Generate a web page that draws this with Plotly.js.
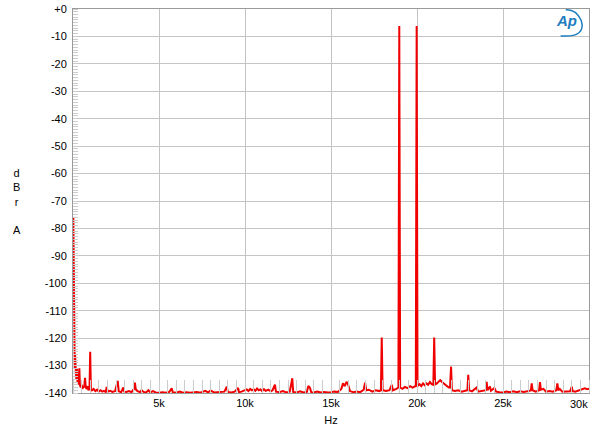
<!DOCTYPE html>
<html>
<head>
<meta charset="utf-8">
<script src="https://cdn.plot.ly/plotly-3.0.1.min.js"></script>
<style>
  html, body { margin: 0; padding: 0; background: #fff; }
  #chart { width: 600px; height: 434px; }
</style>
</head>
<body>
<div id="chart"></div>
<script>
// Frequency (Hz) and level (dBrA)
const freqHz = [
  20, 40, 60, 80, 100, 120, 140, 170, 200, 230, 260, 300, 340, 370, 400, 450, 500, 550, 600, 650,
  700, 740, 800, 850, 900, 960, 1000, 1040, 1100, 1200, 1300, 1400, 1500, 1600, 1700, 1800, 1900, 1960, 2020, 2150,
  2300, 2450, 2600, 2660, 2800, 2930, 2980, 3100, 3250, 3400, 3550, 3600, 3650, 3750, 3900, 3990, 4100, 4250, 4380, 4500,
  4650, 4800, 5000, 5200, 5400, 5600, 5740, 5800, 6000, 6200, 6400, 6600, 6800, 7000, 7200, 7400, 7700, 7850, 8000, 8200,
  8500, 8800, 8940, 9000, 9200, 9400, 9600, 9650, 9800, 10000, 10100, 10200, 10300, 10400, 10500, 10600, 10700, 10800, 10900, 11000,
  11100, 11200, 11350, 11500, 11600, 11740, 11800, 12000, 12200, 12400, 12600, 12750, 12800, 13000, 13200, 13400, 13600, 13680, 13780, 13850,
  14000, 14200, 14400, 14600, 14800, 15000, 15200, 15400, 15600, 15700, 15800, 15900, 16000, 16100, 16300, 16500, 16700, 16900, 16980, 17050,
  17200, 17400, 17600, 17800, 17900, 17950, 18000, 18200, 18400, 18530, 18600, 18800, 18920, 18970, 19020, 19150, 19300, 19450, 19600, 19750,
  19900, 19930, 19980, 20030, 20150, 20250, 20350, 20450, 20550, 20650, 20750, 20850, 20950, 21000, 21050, 21150, 21250, 21350, 21450, 21550,
  21700, 21850, 21920, 21980, 22030, 22200, 22400, 22600, 22800, 22930, 22980, 23030, 23200, 23470, 23550, 23800, 24000, 24050, 24100, 24240,
  24300, 24500, 24600, 24800, 25000, 25200, 25400, 25600, 25800, 26000, 26200, 26500, 26620, 26670, 26720, 26900, 27100, 27150, 27200, 27350,
  27500, 27700, 27900, 28100, 28160, 28220, 28300, 28450, 28700, 28900, 29000, 29050, 29200, 29400, 29600, 29750, 29900, 30000
];
const levelDb = [
  -76, -100, -118, -127, -131, -126, -132, -133, -135, -131, -136, -134, -137, -131, -137, -138, -137, -138.5, -137.5, -138,
  -134.5, -138, -138.5, -137.5, -139, -138.5, -125, -138.5, -139, -138.5, -139.3, -138.8, -139.5, -139, -139.5, -139.2, -139.6, -137.8, -139.5, -139.2,
  -139.6, -139.3, -135.6, -139.4, -139.7, -138, -139.5, -139.6, -139.3, -139.7, -138.5, -136.2, -138.7, -139.3, -139.7, -139, -139.6, -139.8, -139, -139.8,
  -139.3, -139.8, -139.9, -139.7, -139.9, -139.6, -138.3, -139.7, -139.9, -139.5, -139.9, -139.7, -139.9, -139.8, -139.6, -139.9, -139.2, -139.8, -139.1, -139.8,
  -139.7, -139.5, -137.7, -139.6, -139.8, -139.5, -138.2, -139.7, -139.5, -139, -138.7, -139.3, -138.5, -139, -138.6, -139.2, -138.4, -139, -138.7, -139.3,
  -138.6, -139.2, -138.8, -139.4, -139, -137, -139.5, -139.7, -139.3, -139.8, -139.5, -134.6, -139.6, -139.8, -139.4, -139.8, -139.6, -137.4, -138.2, -139.7,
  -139.8, -139.5, -139.8, -139.6, -139.8, -139.7, -139.5, -139.6, -138.5, -136.5, -137.5, -135.9, -137, -139.3, -139.7, -139.5, -139.7, -138.8, -136.2, -139,
  -138.8, -139.5, -139, -139.3, -139, -119.8, -139, -139.3, -139, -137, -139, -138.5, -138, -6.2, -138, -138.5, -137.8, -138.2, -137.5, -138,
  -137.5, -137.8, -6.2, -137.5, -136.8, -137.5, -136.5, -137.2, -136.5, -137, -136, -136.8, -137, -119.8, -137, -136.5, -135.7, -135.3, -136, -136.5,
  -137.5, -138, -138, -130.4, -139, -139.3, -139, -139.5, -139.2, -139, -133.4, -139, -139.4, -138, -139.5, -139.3, -139, -135.9, -139, -137.6,
  -139.2, -138.2, -139.5, -139.7, -139.8, -139.5, -139.7, -139.4, -139.7, -139.4, -139.6, -139.3, -139, -136.5, -139, -139.5, -139, -136, -138.8, -138.5,
  -139.5, -139.3, -139.5, -139, -136.5, -139, -138.5, -139.5, -139.3, -139.4, -137.7, -139.3, -139.5, -139, -138.5, -138.3, -138.6, -138.4
];

// Tick labels (the last x label is right-aligned at the frame edge, as in the reference)
const xTickVals = [5000, 10000, 15000, 20000, 25000, 30000];
const xTickText = ['5k', '10k', '15k', '20k', '25k', ''];
const xEndLabel = '30k';
const yTickVals = [0, -10, -20, -30, -40, -50, -60, -70, -80, -90, -100, -110, -120, -130, -140];
const yTickText = ['+0', '-10', '-20', '-30', '-40', '-50', '-60', '-70', '-80', '-90', '-100', '-110', '-120', '-130', '-140'];

const FONT = 'Liberation Sans, Arial, sans-serif';

const trace = {
  x: freqHz,
  y: levelDb,
  type: 'scatter',
  mode: 'lines',
  line: { color: 'rgb(240,0,0)', width: 2 },
  hoverinfo: 'skip',
  cliponaxis: true
};

const layout = {
  width: 600,
  height: 434,
  margin: { l: 73, r: 11, t: 9, b: 41 },
  paper_bgcolor: '#ffffff',
  plot_bgcolor: '#ffffff',
  showlegend: false,
  font: { family: FONT, size: 11, color: '#000' },
  xaxis: {
    range: [0, 30000],
    tickvals: xTickVals,
    ticktext: xTickText,
    ticks: '',
    showgrid: true,
    gridcolor: '#c4c4c4',
    gridwidth: 1,
    zeroline: false,
    showline: true,
    linecolor: '#9a9a9a',
    linewidth: 1,
    mirror: true,
    tickfont: { family: FONT, size: 11, color: '#000' },
    minor: { dtick: 500, tick0: 0, ticks: 'inside', ticklen: 13, tickcolor: '#cccccc', tickwidth: 1, showgrid: false },
    title: { text: 'Hz', font: { family: FONT, size: 11, color: '#000' }, standoff: 8 }
  },
  yaxis: {
    range: [-140, 0],
    tickvals: yTickVals,
    ticktext: yTickText,
    ticks: '',
    showgrid: true,
    gridcolor: '#c4c4c4',
    gridwidth: 1,
    zeroline: false,
    showline: true,
    linecolor: '#9a9a9a',
    linewidth: 1,
    mirror: true,
    ticklabelstandoff: 3,
    tickfont: { family: FONT, size: 11, color: '#000' },
    minor: { dtick: 1, tick0: 0, ticks: 'inside', ticklen: 5, tickcolor: '#cccccc', tickwidth: 1, showgrid: false }
  },
  annotations: [
    {
      text: xEndLabel,
      xref: 'x', yref: 'paper',
      x: xTickVals[xTickVals.length - 1], y: 0,
      xanchor: 'right', yanchor: 'top',
      xshift: 1, yshift: -3,
      showarrow: false,
      font: { family: FONT, size: 11, color: '#000' }
    },
    {
      text: 'd<br>B<br>r<br><br>A',
      xref: 'paper', yref: 'paper',
      x: -0.108, y: 0.5,
      xanchor: 'center', yanchor: 'middle',
      showarrow: false, align: 'center',
      font: { family: FONT, size: 11, color: '#000' }
    },
    {
      text: '<b><i>Ap</i></b>',
      xref: 'paper', yref: 'paper',
      x: 0.956, y: 0.97,
      xanchor: 'center', yanchor: 'middle',
      showarrow: false,
      font: { family: FONT, size: 15, color: 'rgb(30,125,190)' }
    }
  ],
  shapes: [
    {
      type: 'path',
      xref: 'paper', yref: 'paper',
      path: 'M 0.945 0.93 Q 0.995 0.925 0.985 0.97 Q 0.975 1.0 0.955 0.998',
      line: { color: 'rgb(30,125,190)', width: 1.5 }
    }
  ]
};

Plotly.newPlot('chart', [trace], layout, { displayModeBar: false, staticPlot: true });
</script>
</body>
</html>
